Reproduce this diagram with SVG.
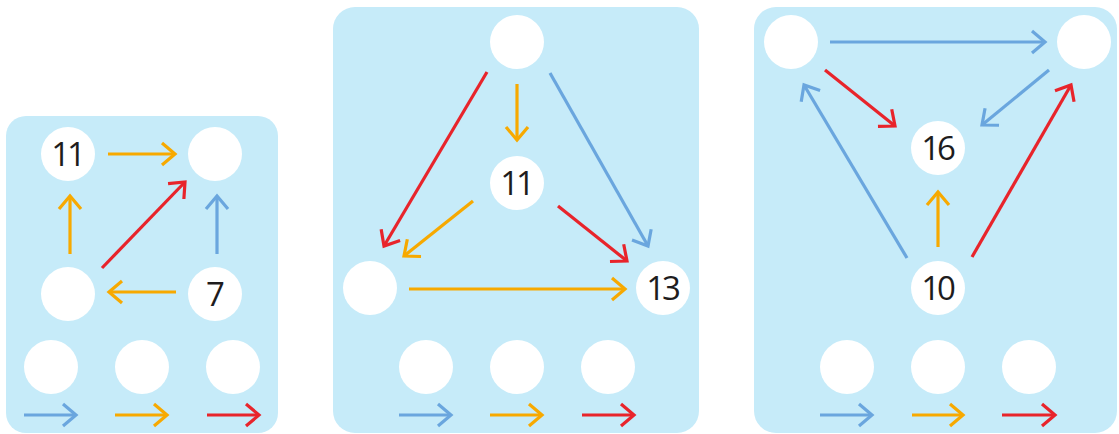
<svg xmlns="http://www.w3.org/2000/svg" width="1119" height="434" viewBox="0 0 1119 434">
<defs>
<style>
.panel{fill:#c6ebf9}
.node{fill:#ffffff}
.lbl{font-family:"Open Sans","Noto Sans","DejaVu Sans",sans-serif;font-size:33px;font-weight:500;fill:#1e1c1d;text-anchor:middle;letter-spacing:-3px}
.b{stroke:#6aa6de;stroke-width:3.2;fill:none}
.o{stroke:#f7a900;stroke-width:3.2;fill:none}
.r{stroke:#e8242b;stroke-width:3.2;fill:none}
.b{marker-end:url(#mb)}
.o{marker-end:url(#mo)}
.r{marker-end:url(#mr)}
</style>
<marker id="mb" markerUnits="userSpaceOnUse" markerWidth="30" markerHeight="30" viewBox="-15 -15 30 30" refX="0" refY="0" orient="auto"><path d="M-13,-11 L0,0 L-13,11" fill="none" stroke="#6aa6de" stroke-width="3.2"/></marker>
<marker id="mo" markerUnits="userSpaceOnUse" markerWidth="30" markerHeight="30" viewBox="-15 -15 30 30" refX="0" refY="0" orient="auto"><path d="M-13,-11 L0,0 L-13,11" fill="none" stroke="#f7a900" stroke-width="3.2"/></marker>
<marker id="mr" markerUnits="userSpaceOnUse" markerWidth="30" markerHeight="30" viewBox="-15 -15 30 30" refX="0" refY="0" orient="auto"><path d="M-13,-11 L0,0 L-13,11" fill="none" stroke="#e8242b" stroke-width="3.2"/></marker>
</defs>
<g id="panels">
<rect class="panel" x="6" y="116" width="272" height="317" rx="20"/>
<rect class="panel" x="333" y="7" width="366" height="426" rx="22"/>
<rect class="panel" x="754" y="7" width="363" height="426" rx="22"/>
</g>
<g id="connectors">
<line class="o" x1="108" y1="154" x2="175" y2="154"/>
<line class="o" x1="70" y1="254" x2="70" y2="196"/>
<line class="r" x1="102" y1="268" x2="185" y2="182"/>
<line class="b" x1="217" y1="254" x2="217" y2="196"/>
<line class="o" x1="176" y1="292" x2="109" y2="292"/>
<line class="b" x1="24" y1="415" x2="76" y2="415"/>
<line class="o" x1="115" y1="415" x2="167" y2="415"/>
<line class="r" x1="207" y1="415" x2="259" y2="415"/>

<line class="r" x1="487" y1="72" x2="384" y2="246"/>
<line class="o" x1="517" y1="84" x2="517" y2="140"/>
<line class="b" x1="550" y1="73" x2="648" y2="246"/>
<line class="o" x1="473" y1="201" x2="404" y2="256"/>
<line class="r" x1="558" y1="206" x2="627" y2="261"/>
<line class="o" x1="409" y1="289" x2="625" y2="289"/>
<line class="b" x1="399" y1="415" x2="451" y2="415"/>
<line class="o" x1="490" y1="415" x2="542" y2="415"/>
<line class="r" x1="582" y1="415" x2="634" y2="415"/>

<line class="b" x1="830" y1="42" x2="1045" y2="42"/>
<line class="r" x1="825" y1="70" x2="895" y2="126"/>
<line class="b" x1="1049" y1="70" x2="982" y2="125"/>
<line class="b" x1="907" y1="258" x2="804" y2="85"/>
<line class="r" x1="972" y1="257" x2="1071" y2="85"/>
<line class="o" x1="938" y1="247" x2="938" y2="192"/>
<line class="b" x1="820" y1="415" x2="872" y2="415"/>
<line class="o" x1="912" y1="415" x2="963" y2="415"/>
<line class="r" x1="1002" y1="415" x2="1055" y2="415"/>
</g>
<g id="p1-n11"><circle class="node" cx="68" cy="154" r="27"/><text class="lbl" x="67" y="166">11</text></g>
<g id="p1-tr"><circle class="node" cx="215" cy="154" r="27"/></g>
<g id="p1-ml"><circle class="node" cx="68" cy="294" r="27"/></g>
<g id="p1-n7"><circle class="node" cx="215" cy="294" r="27"/><text class="lbl" x="214" y="306">7</text></g>
<g id="p1-b1"><circle class="node" cx="51" cy="367" r="27"/></g>
<g id="p1-b2"><circle class="node" cx="142" cy="367" r="27"/></g>
<g id="p1-b3"><circle class="node" cx="233" cy="367" r="27"/></g>

<g id="p2-top"><circle class="node" cx="517" cy="42" r="27"/></g>
<g id="p2-n11"><circle class="node" cx="517" cy="183" r="27"/><text class="lbl" x="516" y="195">11</text></g>
<g id="p2-left"><circle class="node" cx="370" cy="288" r="27"/></g>
<g id="p2-n13"><circle class="node" cx="663" cy="288" r="27"/><text class="lbl" x="662" y="300">13</text></g>
<g id="p2-b1"><circle class="node" cx="426" cy="367" r="27"/></g>
<g id="p2-b2"><circle class="node" cx="517" cy="367" r="27"/></g>
<g id="p2-b3"><circle class="node" cx="608" cy="367" r="27"/></g>

<g id="p3-tl"><circle class="node" cx="791" cy="42" r="27"/></g>
<g id="p3-tr"><circle class="node" cx="1084" cy="42" r="27"/></g>
<g id="p3-n16"><circle class="node" cx="938" cy="148" r="27"/><text class="lbl" x="937" y="160">16</text></g>
<g id="p3-n10"><circle class="node" cx="938" cy="288" r="27"/><text class="lbl" x="937" y="300">10</text></g>
<g id="p3-b1"><circle class="node" cx="847" cy="367" r="27"/></g>
<g id="p3-b2"><circle class="node" cx="938" cy="367" r="27"/></g>
<g id="p3-b3"><circle class="node" cx="1029" cy="367" r="27"/></g>
</svg>
